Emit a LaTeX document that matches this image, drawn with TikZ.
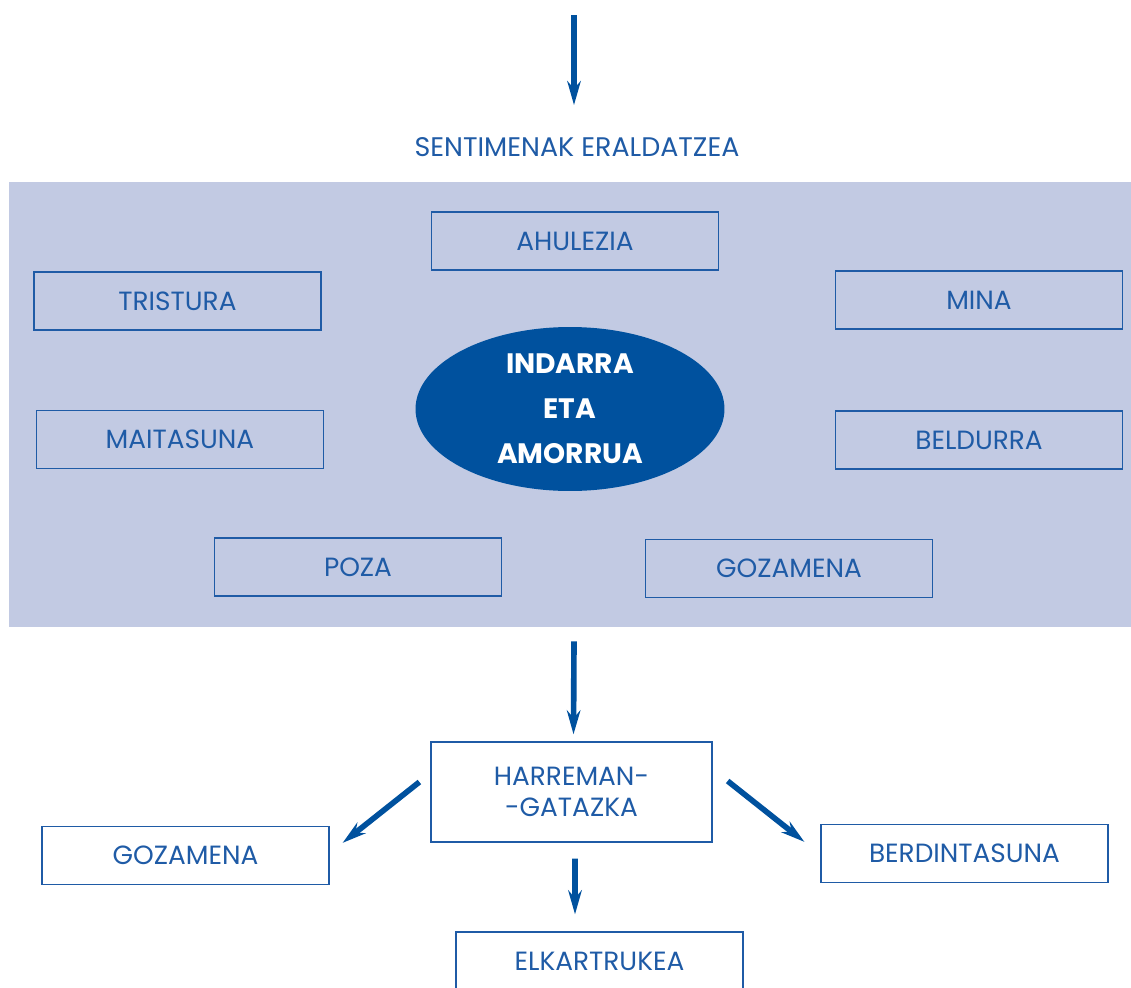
\documentclass[tikz,border=0pt]{standalone}
\usepackage{fontspec}
\setmainfont{Poppins}
\usetikzlibrary{arrows,arrows.meta,shapes.geometric}
\definecolor{azul}{HTML}{00519E}
\definecolor{testua}{HTML}{1F5BA6}
\definecolor{atzea}{HTML}{C2CAE3}
\tikzset{
  kutxa/.style={draw=testua,line width=0.75pt,text=testua,minimum width=5.74cm,
    minimum height=1.16cm,inner sep=0pt,font=\fontsize{15}{17}\selectfont},
  gezia/.style={->,draw=azul,line width=3.2pt,>={Stealth[length=0.48cm,width=0.27cm]}}
}
\begin{document}
\begin{tikzpicture}[x=0.02cm,y=-0.02cm,>=latex]
		\useasboundingbox (0,0) rectangle (1131,987);
		% atzeko panela
		\node[fill=atzea,minimum width=22.44cm,minimum height=8.9cm,inner sep=0pt] (panel) at (570,404.5) {};
		\coordinate (goian) at (574,15);
		\node[text=testua,inner sep=0pt,font=\fontsize{15.3}{17}\selectfont] (izenburua) at (577,147) {SENTIMENAK ERALDATZEA};
		\draw[gezia] (goian) -- ([shift={(-3,-32)}]izenburua.north);
		% erdiko obala
		\node[ellipse,fill=azul,minimum width=6.18cm,minimum height=3.28cm,inner sep=0pt,text=white,
			font=\bfseries\fontsize{16}{25.5}\selectfont,align=center] (indarra) at (570,409) {INDARRA\\ETA\\AMORRUA};
		\foreach \izena/\x/\y/\testua in {ahulezia/575/241/AHULEZIA, tristura/177.5/301/TRISTURA,
			mina/979/300/MINA, maitasuna/180/439.5/MAITASUNA, beldurra/979/440/BELDURRA,
			poza/358/567/POZA, gozamena/789/568.5/GOZAMENA}
			\node[kutxa] (\izena) at (\x,\y) {\testua};
		% behealdea
		\node[kutxa,minimum width=5.62cm,minimum height=2cm,align=center,font=\fontsize{15}{18}\selectfont] (harreman) at (571.5,792) {HARREMAN-\\-GATAZKA};
		\node[kutxa] (gozamenab) at (185.5,855.5) {GOZAMENA};
		\node[kutxa] (berdin) at (964.5,853.5) {BERDINTASUNA};
		\node[kutxa] (elkar) at (599.5,961) {ELKARTRUKEA};
		\draw[gezia] ([shift={(4,14)}]panel.south) -- ([shift={(2,-7)}]harreman.north);
		\draw[gezia] ([shift={(3.5,16)}]harreman.south) -- ([shift={(-24.5,-17)}]elkar.north);
		\draw[gezia] ([shift={(-11,-10)}]harreman.west) -- ([shift={(13,17)}]gozamenab.north east);
		\draw[gezia] ([shift={(15,-11)}]harreman.east) -- ([shift={(-16,18)}]berdin.north west);
		\end{tikzpicture}
\end{document}
